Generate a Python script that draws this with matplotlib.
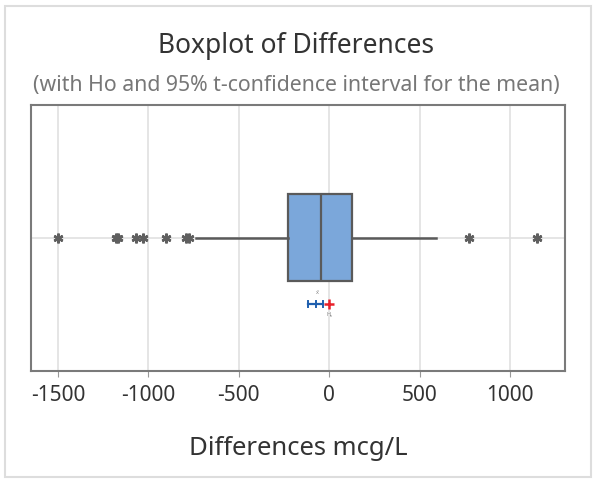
import matplotlib.pyplot as plt
from matplotlib.patches import Rectangle

plt.rcParams['font.family'] = ['Noto Sans', 'DejaVu Sans']

# boxplot summary of the differences (mcg/L)
q1, median, q3 = -228, -46, 126
whisker_low, whisker_high = -735, 593
outliers = [-1500, -1180, -1166, -1066, -1030, -900, -790, -776, 772, 1148]

# mean with 95% t-confidence interval, and the null hypothesis value
mean_diff = -74
ci_low, ci_high = -115, -33
h0 = 0

xticks = [-1500, -1000, -500, 0, 500, 1000]

fig = plt.figure(figsize=(5.93, 4.79), dpi=100)
ax = fig.add_axes([0.052, 0.2255, 0.901, 0.5555])

# light frame round the whole picture
fig.patches.append(Rectangle((0.009, 0.004), 0.988, 0.983, transform=fig.transFigure,
                             fill=False, edgecolor='#dddddd', linewidth=1.5))

stats = [dict(med=median, q1=q1, q3=q3, whislo=whisker_low, whishi=whisker_high,
              fliers=outliers)]
ax.bxp(stats, positions=[0.5], widths=0.327, vert=False, patch_artist=True,
       showcaps=False,
       boxprops=dict(facecolor='#7ba7da', edgecolor='#5a5a5a', linewidth=1.6),
       medianprops=dict(color='#5a5a5a', linewidth=1.6),
       whiskerprops=dict(color='#5a5a5a', linewidth=1.8),
       flierprops=dict(marker=(6, 2, 0), markersize=7, markeredgecolor='#5f5f5f',
                       markeredgewidth=1.8, linestyle='none'), zorder=3)

# confidence interval for the mean
ci_y = 0.252
ax.plot([ci_low, ci_high], [ci_y, ci_y], color='#1f5fae', lw=1.6, zorder=4)
for xv in (ci_low, mean_diff, ci_high):
    ax.plot([xv, xv], [ci_y - 0.012, ci_y + 0.012], color='#1f5fae', lw=1.4, zorder=4)
ax.plot([h0], [ci_y], marker='+', color='#e8212b', markersize=7, mew=1.8, zorder=5)
ax.text(mean_diff + 10, ci_y + 0.035, 'x̄', fontsize=4, color='#888888', ha='center', va='bottom')
ax.text(h0, ci_y - 0.03, 'H₀', fontsize=4, color='#888888', ha='center', va='top')

ax.axhline(0.5, color='#e0e0e0', lw=1.2, zorder=1)
for xv in xticks:
    ax.axvline(xv, color='#e0e0e0', lw=1.2, zorder=1)

ax.set_xlim(-1650, 1305)
ax.set_ylim(0, 1)
ax.set_xticks(xticks)
ax.set_xticklabels([str(t) for t in xticks], fontsize=15, color='#333333')
ax.set_yticks([])
ax.tick_params(axis='x', length=4, color='#999999', pad=6)
for s in ax.spines.values():
    s.set_color('#7a7a7a')
    s.set_linewidth(1.5)

ax.set_xlabel('Differences mcg/L', fontsize=18.5, color='#333333', labelpad=22)
fig.text(0.5, 0.905, 'Boxplot of Differences', fontsize=19, color='#333333',
         ha='center', va='center')
fig.text(0.5, 0.822, '(with Ho and 95% t-confidence interval for the mean)',
         fontsize=15.3, color='#777777', ha='center', va='center')

fig.savefig('out.png', dpi=100)
